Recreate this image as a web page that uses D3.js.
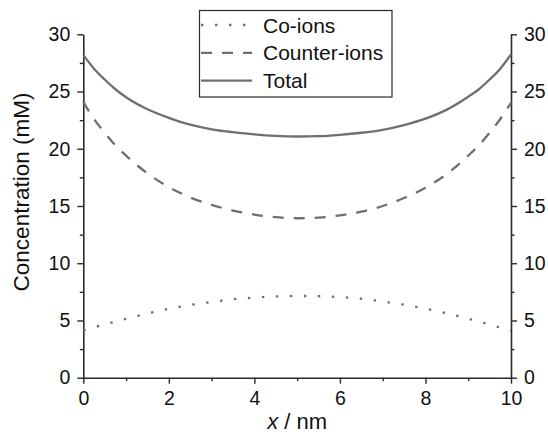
<!DOCTYPE html>
<html>
<head>
<meta charset="utf-8">
<script src="https://cdn.jsdelivr.net/npm/d3@7"></script>
<style>
    body { margin:0; background:#fff; }
    svg { display:block; font-family: "Liberation Sans", Arial, sans-serif; }
</style>
</head>
<body>
<svg id="chart" width="548" height="435"></svg>
<script>
// positions along the slit (nm)
const xPos = [0,0.25,0.5,0.75,1,1.5,2,2.5,3,3.5,4,4.5,5,5.5,6,6.5,7,7.5,8,8.5,9,9.25,9.5,9.75,10];
// concentrations (mM)
const coIons      = [4.15,4.4,4.65,4.9,5.14,5.6,6.02,6.35,6.62,6.85,7.0,7.1,7.14,7.12,7.04,6.9,6.66,6.37,6.03,5.62,5.15,4.9,4.64,4.38,4.12];
const counterIons = [24.1,22.6,21.4,20.3,19.4,17.85,16.65,15.75,15.1,14.6,14.25,14.02,13.93,13.98,14.18,14.5,15.0,15.7,16.6,17.8,19.4,20.3,21.4,22.6,24.0];
const total       = [28.2,27.0,26.05,25.2,24.5,23.45,22.7,22.1,21.7,21.45,21.25,21.12,21.07,21.1,21.22,21.4,21.66,22.07,22.63,23.42,24.55,25.2,26.05,27.0,28.25];

const seriesNames = ['Co-ions','Counter-ions','Total'];
const yTicks = [0,5,10,15,20,25,30];
const yMinor = [2.5,7.5,12.5,17.5,22.5,27.5];
const xTicks = [0,2,4,6,8,10];
const xMinor = [1,3,5,7,9];

const svg = d3.select('#chart');
const lineColor = '#6f6f6f', axisColor = '#2a2a2a';

const x = d3.scaleLinear().domain([0,10]).range([83.3,511]);
const y = d3.scaleLinear().domain([0,30]).range([377.7,34.3]);

// axes (left, right, bottom) with outward ticks
const drawAxis = (axis, transform, minorAxis) => {
    const g = svg.append('g').attr('transform',transform).call(axis);
    g.select('.domain').attr('stroke',axisColor).attr('stroke-width',1.6);
    g.selectAll('.tick line').attr('stroke',axisColor).attr('stroke-width',1.4);
    g.selectAll('.tick text').attr('fill','#111').style('font-size','19.5px');
    const m = svg.append('g').attr('transform',transform).call(minorAxis);
    m.select('.domain').remove();
    m.selectAll('.tick text').remove();
    m.selectAll('.tick line').attr('stroke',axisColor).attr('stroke-width',1.4);
    return g;
};

drawAxis(d3.axisLeft(y).tickValues(yTicks).tickSize(6).tickPadding(7).tickSizeOuter(0),
    `translate(${x(0)},0)`,
    d3.axisLeft(y).tickValues(yMinor).tickSize(3.5).tickFormat(''));
drawAxis(d3.axisRight(y).tickValues(yTicks).tickSize(6).tickPadding(7).tickSizeOuter(0),
    `translate(${x(10)},0)`,
    d3.axisRight(y).tickValues(yMinor).tickSize(3.5).tickFormat(''));
drawAxis(d3.axisBottom(x).tickValues(xTicks).tickSize(6).tickPadding(7.5).tickSizeOuter(0),
    `translate(0,${y(0)})`,
    d3.axisBottom(x).tickValues(xMinor).tickSize(3.5).tickFormat(''));

// axis titles
svg.append('text')
    .attr('transform',`translate(29,${(y(0)+y(30))/2 - 14}) rotate(-90)`)
    .attr('text-anchor','middle')
    .style('font-size','22.5px')
    .attr('fill','#111')
    .text('Concentration (mM)');

const xt = svg.append('text')
    .attr('x',(x(0)+x(10))/2)
    .attr('y',429)
    .attr('text-anchor','middle')
    .style('font-size','22px')
    .attr('fill','#111');
xt.append('tspan').style('font-style','italic').text('x');
xt.append('tspan').text(' / nm');

// curves
const styles = [
    { values: coIons,      dash: '2.4,11.6' },
    { values: counterIons, dash: '11,10' },
    { values: total,       dash: null }
];
const line = d3.line().x(d => x(d[0])).y(d => y(d[1])).curve(d3.curveMonotoneX);

styles.forEach(s => {
    svg.append('path')
        .datum(xPos.map((v,i) => [v, s.values[i]]))
        .attr('d',line)
        .attr('fill','none')
        .attr('stroke',lineColor)
        .attr('stroke-width',2.3)
        .attr('stroke-dasharray',s.dash);
});

// legend
const legend = svg.append('g');
legend.append('rect')
    .attr('x',199.5).attr('y',10.5).attr('width',192.5).attr('height',86.5)
    .attr('fill','#fff').attr('stroke',axisColor).attr('stroke-width',1.2);

seriesNames.forEach((name,i) => {
    const cy = 25 + i*27.8;
    legend.append('line')
        .attr('x1',201).attr('x2',252).attr('y1',cy).attr('y2',cy)
        .attr('stroke',lineColor).attr('stroke-width',2.3)
        .attr('stroke-dasharray',styles[i].dash);
    legend.append('text')
        .attr('x',263).attr('y',cy)
        .attr('dy','0.36em')
        .style('font-size','21px')
        .attr('fill','#111')
        .text(name);
});
</script>
</body>
</html>
